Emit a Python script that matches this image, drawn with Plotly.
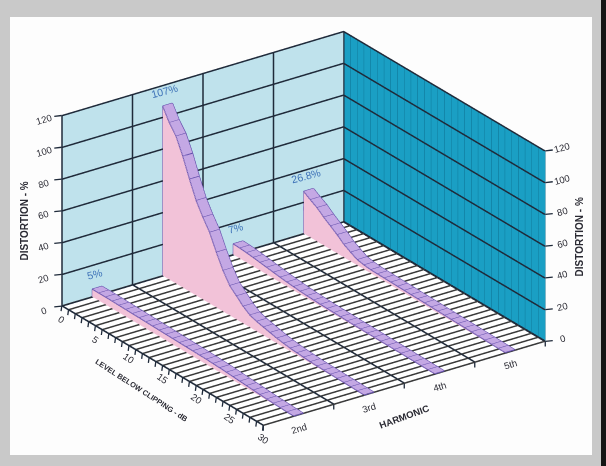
import plotly.graph_objects as go

harmonic_labels = ["2nd", "3rd", "4th", "5th"]
harmonic_pos = [2.5, 3.5, 4.5, 5.5]
harmonic_edges = [2, 3, 4, 5, 6]
levels = list(range(0, 31))
level_ticks = [0, 5, 10, 15, 20, 25, 30]
z_ticks = [0, 20, 40, 60, 80, 100, 120]

d2 = [5, 5, 5, 4.9, 4.8, 4.7, 4.6, 4.5, 4.4, 4.3, 4.2, 4.1, 4, 3.9, 3.8, 3.7, 3.6, 3.5, 3.3, 3.1, 2.8, 2.5, 2.2, 1.9, 1.6, 1.3, 1, .8, .6, .4, .3]
d3 = [107, 99, 93, 83, 71, 60, 52, 45, 35, 26, 19, 15, 11, 8, 6.5, 5.5, 4.5, 3.5, 2.8, 2.2, 1.8, 1.5, 1.2, 1, .9, .8, .7, .6, .5, .4, .3]
d4 = [7, 6.8, 6.4, 5.9, 5.3, 4.7, 4.1, 3.5, 3, 2.6, 2.2, 1.9, 1.7, 1.5, 1.4, 1.3, 1.2, 1.1, 1, 1, .9, .9, .8, .8, .7, .7, .6, .6, .5, .5, .4]
d5 = [26.8, 24, 21.5, 18, 15, 12, 8.5, 6, 3.8, 3, 2.5, 2.4, 2.3, 2.2, 2.1, 2, 1.9, 1.8, 1.7, 1.6, 1.5, 1.4, 1.3, 1.2, 1.1, 1, .9, .8, .7, .6, .5]
series = [d2, d3, d4, d5]
peak_labels = ["5%", "107%", "7%", "26.8%"]

PINK = "#f2c2d8"
LAV = "#c4a8e4"
EDGE = "#6450ac"
INK = "#1f2a3a"
TEXT = "#2a2a33"
BLUE = "#3f73b8"
HW = 0.07
X_MIN, X_MAX = harmonic_edges[0], harmonic_edges[-1]
Y_MIN, Y_MAX = levels[0], levels[-1]
Z_MAX = z_ticks[-1]

fig = go.Figure()

def lines(xs, ys, zs, color, width):
    fig.add_trace(go.Scatter3d(x=xs, y=ys, z=zs, mode="lines", line=dict(color=color, width=width), hoverinfo="skip", showlegend=False))

hx, hy, hz = [], [], []
for L in levels:
    hx += [X_MIN, X_MAX, None]
    hy += [L, L, None]
    hz += [0.2, 0.2, None]
lines(hx, hy, hz, "#3a3a3a", 3)

gx, gy, gz = [], [], []
for z in z_ticks:
    gx += [X_MIN, X_MAX - 0.005, X_MAX - 0.005, None]
    gy += [Y_MIN + 0.04, Y_MIN + 0.04, Y_MAX, None]
    gz += [z, z, z, None]
for e in harmonic_edges:
    gx += [e, e, e, None]
    gy += [Y_MAX, Y_MIN + 0.04, Y_MIN + 0.04, None]
    gz += [0.3, 0.3, Z_MAX, None]
lines(gx, gy, gz, INK, 3)

for xc, vals in zip(harmonic_pos, series):
    n = len(levels)
    x0, x1 = xc - HW, xc + HW
    X = [x0] * n + [x0] * n
    Y = levels + levels
    Z = [0.3] * n + vals
    I, J, K = [], [], []
    for a in range(n - 1):
        I += [a, a + 1]
        J += [a + 1, a + 1 + n]
        K += [a + n, a + n]
    fig.add_trace(go.Mesh3d(x=X, y=Y, z=Z, i=I, j=J, k=K, color=PINK, flatshading=True,
                            lighting=dict(ambient=1, diffuse=0, specular=0, fresnel=0), hoverinfo="skip"))
    X = [x0] * n + [x1] * n
    Z = vals + vals
    fig.add_trace(go.Mesh3d(x=X, y=Y, z=Z, i=I, j=J, k=K, color=LAV, flatshading=True,
                            lighting=dict(ambient=1, diffuse=0, specular=0, fresnel=0), hoverinfo="skip"))
    lx, ly, lz = [], [], []
    lx += [x0] * n + [None] + [x1] * n + [None]
    ly += levels + [None] + levels + [None]
    lz += vals + [None] + vals + [None]
    for L, v in zip(levels, vals):
        lx += [x0, x1, None]
        ly += [L, L, None]
        lz += [v, v, None]
    lx += [x0, x0, None]
    ly += [0, 0, None]
    lz += [0, vals[0], None]
    lines(lx, ly, lz, EDGE, 2)

ann = []
def label(x, y, z, text, dx, dy, angle, size=9.5, color=TEXT):
    ann.append(dict(x=x, y=y, z=z, text=text, showarrow=False, xshift=dx, yshift=-dy,
                    textangle=angle, font=dict(size=size, color=color, family="Liberation Sans")))
def tick(x, y, z, ax, ay):
    ann.append(dict(x=x, y=y, z=z, text=" ", showarrow=True, arrowhead=0, arrowwidth=1.3, arrowcolor=INK,
                    ax=ax, ay=ay, standoff=0, font=dict(size=1)))

for z in z_ticks:
    tick(X_MIN, Y_MIN, z, -9, 1)
    label(X_MIN, Y_MIN, z, str(z), -18, 4, -17)
    tick(X_MAX, Y_MAX, z, 9, -1)
    label(X_MAX, Y_MAX, z, str(z), 17, -3, -15)
for L in levels:
    tick(X_MIN, L, 0, -1, 7)
for L in level_ticks:
    label(X_MIN, L, 0, str(L), 0, 13, 35)
for e in harmonic_edges:
    tick(e, Y_MAX, 0, 0, 7)
for xc, t in zip(harmonic_pos, harmonic_labels):
    label(xc, Y_MAX, 0, t, 0, 13, -17)
for xc, vals, t in zip(harmonic_pos, series, peak_labels):
    label(xc, Y_MIN, vals[0], t, -3, -14, -15, size=10.5, color=BLUE)
label(X_MIN, Y_MIN, 60, "<b>DISTORTION - %</b>", -37, 10, -90, size=10)
label(X_MAX, Y_MAX, 60, "<b>DISTORTION - %</b>", 34, -9, -90, size=10)
label(X_MIN, 15, 0, "<b>LEVEL BELOW CLIPPING - dB</b>", -21, 25, 33, size=7.5)
label(4, Y_MAX, 0, "<b>HARMONIC</b>", 0, 33, -20, size=9.5)

R = 1.25
ZOOM = 1.59
eye_dir = (-0.525, -0.74, 0.421)
right_dir = (0.8155, -0.579, 0.0)
up_dir = (0.2438, 0.343, 0.907)
shift_up, shift_right = 7.5 / 218, 2.5 / 218
cen = [-shift_up * u - shift_right * r for u, r in zip(up_dir, right_dir)]
eye = [c + R * e for c, e in zip(cen, eye_dir)]

common = dict(showticklabels=False, title=dict(text=""), showspikes=False, zeroline=False, showline=True, linecolor=INK, linewidth=2, ticks="")
fig.update_layout(
    width=606, height=466, margin=dict(l=0, r=0, t=0, b=0), paper_bgcolor="#c9c9c9", showlegend=False,
    shapes=[
        dict(type="rect", xref="paper", yref="paper", x0=601 / 606, x1=1, y0=0, y1=1, fillcolor="#151515", line=dict(width=0), layer="below"),
    ],
    scene=dict(
        domain=dict(x=[10 / 606, 592 / 606], y=[11 / 466, 449 / 466]), bgcolor="#fdfdfd",
        aspectmode="manual", aspectratio=dict(x=0.993 * ZOOM, y=1 * ZOOM, z=0.6035 * ZOOM),
        camera=dict(projection=dict(type="orthographic"), eye=dict(x=eye[0], y=eye[1], z=eye[2]), up=dict(x=0, y=0, z=1), center=dict(x=cen[0], y=cen[1], z=cen[2])),
        xaxis=dict(common, range=[X_MIN, X_MAX], tickvals=harmonic_edges, showgrid=True, gridcolor=INK, gridwidth=2, showbackground=True, backgroundcolor="#1a9fc4"),
        yaxis=dict(common, range=[Y_MAX, Y_MIN], tickvals=levels, showgrid=True, gridcolor="#0c6f8f", gridwidth=1, showbackground=True, backgroundcolor="#bfe2ec"),
        zaxis=dict(common, range=[0, Z_MAX], tickvals=z_ticks, showgrid=True, gridcolor=INK, gridwidth=2, showbackground=True, backgroundcolor="#ffffff"),
        annotations=ann,
    ),
)
fig.write_html("out.html", post_script="document.body.style.margin='0';", config=dict(displayModeBar=False))
